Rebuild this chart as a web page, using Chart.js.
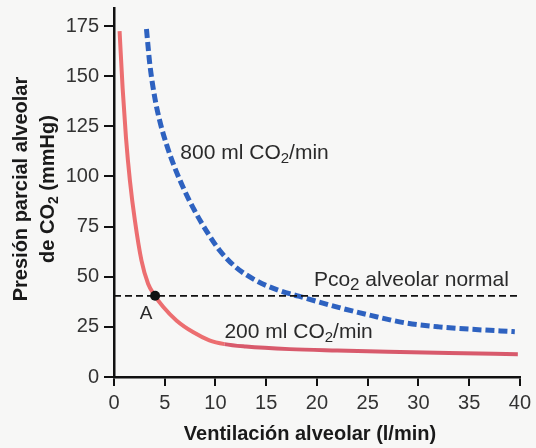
<!DOCTYPE html>
<html>
<head>
<meta charset="utf-8">
<script src="https://cdn.jsdelivr.net/npm/chart.js@4.4.1/dist/chart.umd.min.js"></script>
<style>
html,body{margin:0;padding:0;background:#f7f7f6;}
#wrap{width:536px;height:448px;}
</style>
</head>
<body>
<div id="wrap"><canvas id="c" width="536" height="448"></canvas></div>
<script>
// Data
const ventRed  = [0.55, 0.85, 1.18, 1.57, 2.06, 2.71, 3.36, 4.02, 4.84, 6.15, 7.78, 9.4, 10.9, 13.0, 17.3, 22.0, 27.0, 33.0, 39.8];
const pco2Red  = [172.5, 144, 119.4, 97.9, 78, 58, 46.5, 40.6, 35, 28.2, 22.4, 18.3, 16.4, 15.2, 13.9, 13.2, 12.6, 12.0, 11.4];
const ventBlue = [3.2, 3.53, 4.02, 4.51, 5.17, 5.98, 6.96, 7.94, 9.09, 10.4, 12.0, 14.0, 16.3, 18.2, 22.2, 25.4, 28.7, 32.0, 35.2, 39.5];
const pco2Blue = [173.5, 156, 139.3, 127.7, 116, 104.5, 92.9, 83, 73, 63.2, 54.8, 48.1, 43.1, 40.3, 34.6, 30.6, 27.0, 25.0, 23.8, 22.6];
const normalPco2 = 40.5;
const pointA = {x: 4.05, y: 40.5};
const xTicks = [0, 5, 10, 15, 20, 25, 30, 35, 40];
const yTicks = [0, 25, 50, 75, 100, 125, 150, 175];

const toXY = (xs, ys) => xs.map((x, i) => ({x, y: ys[i]}));

function drawRich(ctx, parts, x, y, align, font, subFont, subDy) {
  let total = 0;
  const widths = parts.map(p => { ctx.font = p.sub ? subFont : font; const w = ctx.measureText(p.t).width; total += w; return w; });
  let cx = align === 'center' ? x - total / 2 : (align === 'right' ? x - total : x);
  ctx.textAlign = 'left';
  ctx.textBaseline = 'alphabetic';
  parts.forEach((p, i) => {
    ctx.font = p.sub ? subFont : font;
    ctx.fillText(p.t, cx, y + (p.sub ? subDy : 0));
    cx += widths[i];
  });
}

const bgPlugin = {
  id: 'bg',
  beforeDraw(chart) {
    const ctx = chart.ctx;
    ctx.save();
    ctx.fillStyle = '#f7f7f6';
    ctx.fillRect(0, 0, chart.width, chart.height);
    ctx.restore();
  }
};

const textPlugin = {
  id: 'texts',
  afterDraw(chart) {
    const ctx = chart.ctx;
    const xs = chart.scales.x, ys = chart.scales.y;
    const F = '21px "Liberation Sans", Arial, sans-serif';
    const FS = '15px "Liberation Sans", Arial, sans-serif';
    ctx.save();
    ctx.fillStyle = '#2a2a2a';
    drawRich(ctx, [{t:'800 ml CO'},{t:'2',sub:true},{t:'/min'}], xs.getPixelForValue(6.54), ys.getPixelForValue(108.9), 'left', F, FS, 4);
    drawRich(ctx, [{t:'Pco'},{t:'2',sub:true},{t:' alveolar normal'}], xs.getPixelForValue(19.7), ys.getPixelForValue(45.2), 'left', F, '17px "Liberation Sans", Arial, sans-serif', 4);
    drawRich(ctx, [{t:'200 ml CO'},{t:'2',sub:true},{t:'/min'}], xs.getPixelForValue(10.88), ys.getPixelForValue(19.4), 'left', F, FS, 4);
    ctx.font = '19px "Liberation Sans", Arial, sans-serif';
    ctx.textAlign = 'left';
    ctx.fillText('A', xs.getPixelForValue(2.55), ys.getPixelForValue(28.8));

    ctx.fillStyle = '#1a1a1a';
    const FB = 'bold 20px "Liberation Sans", Arial, sans-serif';
    const FBS = 'bold 14px "Liberation Sans", Arial, sans-serif';
    ctx.font = FB;
    ctx.textAlign = 'center';
    ctx.textBaseline = 'alphabetic';
    ctx.fillText('Ventilación alveolar (l/min)', 310, 440);

    ctx.translate(0, 189);
    ctx.rotate(-Math.PI / 2);
    ctx.font = FB;
    ctx.textAlign = 'center';
    ctx.fillText('Presión parcial alveolar', 0, 27);
    drawRich(ctx, [{t:'de CO'},{t:'2',sub:true},{t:' (mmHg)'}], 0, 54, 'center', FB, FBS, 4);
    ctx.restore();
  }
};

new Chart(document.getElementById('c'), {
  type: 'line',
  data: {
    datasets: [
      { label: 'A', data: [pointA], showLine: false, pointRadius: 5, pointBackgroundColor: '#111', pointBorderWidth: 0, borderColor: '#111' },
      { label: 'normal', data: [{x: 0, y: normalPco2}, {x: 40, y: normalPco2}], borderColor: '#111', borderWidth: 1.8, borderDash: [7, 4], pointRadius: 0, tension: 0 },
      { label: '800', data: toXY(ventBlue, pco2Blue), borderColor: '#2e62c0', borderWidth: 5, borderDash: [9, 4], pointRadius: 0, cubicInterpolationMode: 'monotone', borderCapStyle: 'butt' },
      { label: '200', data: toXY(ventRed, pco2Red), borderColor: '#ea6b6e', borderWidth: 4, pointRadius: 0, cubicInterpolationMode: 'monotone',
        segment: { borderColor: c => c.p0.parsed.x >= 10.8 ? '#d85a6c' : '#ec6e70' } }
    ]
  },
  options: {
    responsive: false,
    animation: false,
    layout: { padding: { left: 0, right: 14, top: 7, bottom: 0 } },
    plugins: { legend: { display: false }, tooltip: { enabled: false } },
    scales: {
      x: {
        type: 'linear', min: 0, max: 40,
        afterFit: s => { s.height = 71; },
        afterBuildTicks: s => { s.ticks = xTicks.map(v => ({value: v})); },
        ticks: { color: '#333', font: { size: 20, family: '"Liberation Sans", Arial, sans-serif' }, padding: 5, maxRotation: 0, autoSkip: false },
        grid: { display: true, drawOnChartArea: false, drawTicks: true, tickLength: 9, color: '#111', lineWidth: 2 },
        border: { display: true, color: '#111', width: 2.5 }
      },
      y: {
        type: 'linear', min: 0, max: 184,
        afterFit: s => { s.width = 114; },
        afterBuildTicks: s => { s.ticks = yTicks.map(v => ({value: v})); },
        ticks: { color: '#333', font: { size: 20, family: '"Liberation Sans", Arial, sans-serif', lineHeight: 0.3 }, padding: 5, autoSkip: false },
        grid: { display: true, drawOnChartArea: false, drawTicks: true, tickLength: 10, color: '#111', lineWidth: 2 },
        border: { display: true, color: '#111', width: 2.5 }
      }
    }
  },
  plugins: [bgPlugin, textPlugin]
});
</script>
</body>
</html>
